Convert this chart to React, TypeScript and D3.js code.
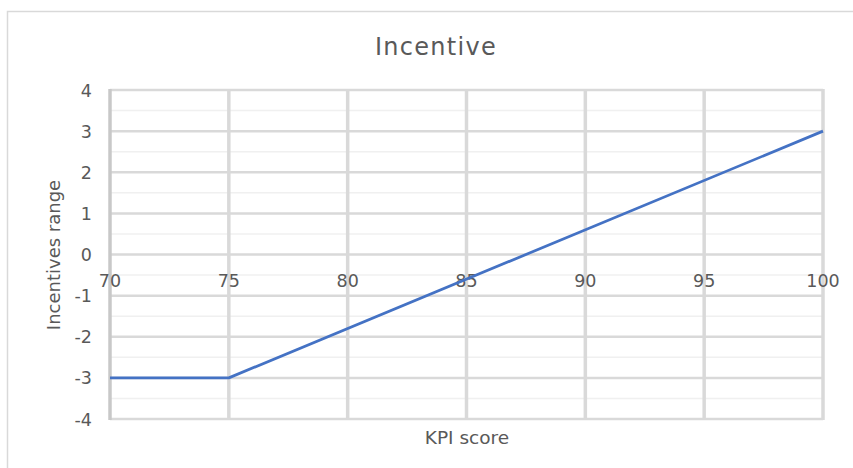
import React, { useEffect, useRef } from 'react';
import * as d3 from 'd3';

// series: KPI score -> incentive
const kpiScores = [70, 75, 100];
const incentives = [-3, -3, 3];
const xTicks = [70, 75, 80, 85, 90, 95, 100];
const yTicks = [-4, -3, -2, -1, 0, 1, 2, 3, 4];
const yMinorTicks = [-3.5, -2.5, -1.5, -0.5, 0.5, 1.5, 2.5, 3.5];
const chartTitle = 'Incentive';
const xTitle = 'KPI score';
const yTitle = 'Incentives range';

const W = 853, H = 468;
const FONT = '"DejaVu Sans", sans-serif';

export default function App() {
  const ref = useRef<SVGSVGElement>(null);

  useEffect(() => {
    const svg = d3.select(ref.current);
    svg.selectAll('*').remove();

    const x = d3.scaleLinear().domain([70, 100]).range([110, 823]);
    const y = d3.scaleLinear().domain([-4, 4]).range([419, 90]);

    // outer chart border
    svg.append('rect')
      .attr('x', 7.5).attr('y', 11.5)
      .attr('width', 900).attr('height', 600)
      .attr('fill', '#fff').attr('stroke', '#d9d9d9').attr('stroke-width', 1.5);

    // minor horizontal grid
    svg.selectAll('line.ymin').data(yMinorTicks).enter().append('line')
      .attr('class', 'ymin')
      .attr('x1', x(70)).attr('x2', x(100))
      .attr('y1', d => y(d)).attr('y2', d => y(d))
      .attr('stroke', '#f0f0f0').attr('stroke-width', 1.5);

    // major horizontal grid
    svg.selectAll('line.ymaj').data(yTicks).enter().append('line')
      .attr('class', 'ymaj')
      .attr('x1', x(70)).attr('x2', x(100))
      .attr('y1', d => y(d)).attr('y2', d => y(d))
      .attr('stroke', '#d9d9d9').attr('stroke-width', 2.5);

    // vertical grid
    svg.selectAll('line.xmaj').data(xTicks).enter().append('line')
      .attr('class', 'xmaj')
      .attr('y1', y(-4) + 1).attr('y2', y(4) - 1)
      .attr('x1', d => x(d)).attr('x2', d => x(d))
      .attr('stroke', d => d === 70 ? '#c8c8c8' : '#d9d9d9')
      .attr('stroke-width', 3.5);

    // y tick labels
    svg.selectAll('text.ytick').data(yTicks).enter().append('text')
      .attr('class', 'ytick')
      .attr('x', 92).attr('y', d => y(d) + 6.5)
      .attr('text-anchor', 'end')
      .attr('font-family', FONT).attr('font-size', 17.5)
      .attr('fill', '#595959')
      .text(d => d);

    // x tick labels, sit just under the zero line
    svg.selectAll('text.xtick').data(xTicks).enter().append('text')
      .attr('class', 'xtick')
      .attr('x', d => x(d)).attr('y', y(0) + 32)
      .attr('text-anchor', 'middle')
      .attr('font-family', FONT).attr('font-size', 17.5)
      .attr('fill', '#595959')
      .text(d => d);

    // the line
    const line = d3.line<number>()
      .x((d, i) => x(kpiScores[i]))
      .y(d => y(d));
    svg.append('path')
      .attr('d', line(incentives))
      .attr('fill', 'none')
      .attr('stroke', '#4472c4')
      .attr('stroke-width', 2.75)
      .attr('stroke-linejoin', 'round');

    // titles
    svg.append('text')
      .attr('x', 436).attr('y', 55)
      .attr('text-anchor', 'middle')
      .attr('font-family', FONT).attr('font-size', 24)
      .attr('letter-spacing', 1.3)
      .attr('fill', '#595959')
      .text(chartTitle);
    svg.append('text')
      .attr('x', 467).attr('y', 444)
      .attr('text-anchor', 'middle')
      .attr('font-family', FONT).attr('font-size', 18.5)
      .attr('fill', '#595959')
      .text(xTitle);
    svg.append('text')
      .attr('transform', 'translate(60,255) rotate(-90)')
      .attr('text-anchor', 'middle')
      .attr('font-family', FONT).attr('font-size', 18)
      .attr('fill', '#595959')
      .text(yTitle);
  }, []);

  return (
    <svg ref={ref} width={W} height={H}
      style={{ position: 'absolute', left: 0, top: 0, background: '#fff' }} />
  );
}
